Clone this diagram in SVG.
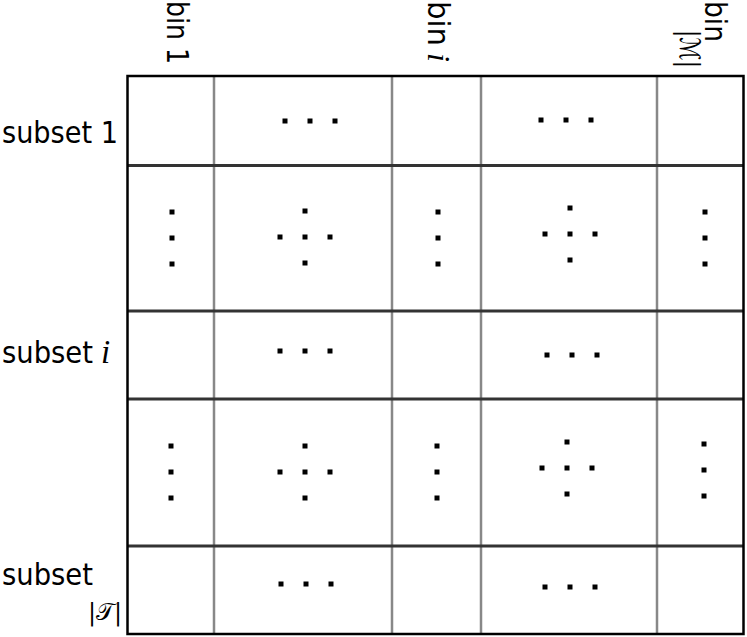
<svg xmlns="http://www.w3.org/2000/svg" width="747" height="637" viewBox="0 0 747 637">
<style>
.lbl{font-family:"DejaVu Sans","Liberation Sans",sans-serif;font-size:30px;fill:#000}
.mi{font-family:"Liberation Serif","DejaVu Serif",serif;font-style:italic;fill:#000}
.cal{font-family:"DejaVu Serif","DejaVu Sans","Noto Sans",serif;fill:#000}
.vl{stroke:#888;stroke-width:2.5;fill:none}
.hl{stroke:#333;stroke-width:3;fill:none}
.dot{fill:#000}
</style>
<defs>
<rect id="d" x="-2.5" y="-2.5" width="5" height="5" class="dot"/>
<g id="h3"><use href="#d" x="-25"/><use href="#d"/><use href="#d" x="25"/></g>
<g id="v3"><use href="#d" y="-26"/><use href="#d"/><use href="#d" y="26"/></g>
<g id="cr"><use href="#d" x="-25"/><use href="#d"/><use href="#d" x="25"/><use href="#d" y="-26"/><use href="#d" y="26"/></g>
</defs>
<g id="grid">
<line class="vl" x1="214" y1="75" x2="214" y2="634"/>
<line class="vl" x1="392" y1="75" x2="392" y2="634"/>
<line class="vl" x1="481" y1="75" x2="481" y2="634"/>
<line class="vl" x1="657" y1="75" x2="657" y2="634"/>
<line class="hl" x1="127" y1="165.5" x2="744" y2="165.5"/>
<line class="hl" x1="127" y1="311" x2="744" y2="311"/>
<line class="hl" x1="127" y1="399" x2="744" y2="399"/>
<line class="hl" x1="127" y1="546" x2="744" y2="546"/>
<rect x="127.5" y="76" width="616" height="558" fill="none" stroke="#000" stroke-width="2.5"/>
</g>
<g id="col-labels">
<text class="lbl" transform="translate(167,1) rotate(90)" textLength="63" lengthAdjust="spacingAndGlyphs">bin 1</text>
<g transform="translate(428,1) rotate(90)"><text class="lbl" textLength="45" lengthAdjust="spacingAndGlyphs">bin</text><text class="mi" x="52" font-size="32">i</text></g>
<g transform="translate(705,1) rotate(90)"><text class="lbl" textLength="41" lengthAdjust="spacingAndGlyphs">bin</text><text class="cal" x="29" y="25" font-size="28" textLength="38" lengthAdjust="spacingAndGlyphs">|ℳ|</text></g>
</g>
<g id="row-labels">
<text class="lbl" x="2" y="143" textLength="116" lengthAdjust="spacingAndGlyphs">subset 1</text>
<text class="lbl" x="2" y="363" textLength="91" lengthAdjust="spacingAndGlyphs">subset</text>
<text class="mi" x="101" y="363" font-size="33">i</text>
<text class="lbl" x="2" y="585" textLength="91" lengthAdjust="spacingAndGlyphs">subset</text>
<text class="cal" x="88" y="620" font-size="24">|𝒯|</text>
</g>
<g id="dots">
<use href="#h3" x="310" y="121"/>
<use href="#h3" x="566" y="120"/>
<use href="#v3" x="172" y="238"/>
<use href="#cr" x="305" y="237"/>
<use href="#v3" x="438" y="238"/>
<use href="#cr" x="570" y="234"/>
<use href="#v3" x="705" y="238"/>
<use href="#h3" x="305" y="351"/>
<use href="#h3" x="572" y="355"/>
<use href="#v3" x="171" y="472"/>
<use href="#cr" x="305" y="472"/>
<use href="#v3" x="437" y="472"/>
<use href="#cr" x="567" y="468"/>
<use href="#v3" x="704" y="470"/>
<use href="#h3" x="306" y="584"/>
<use href="#h3" x="570" y="587"/>
</g>
</svg>
